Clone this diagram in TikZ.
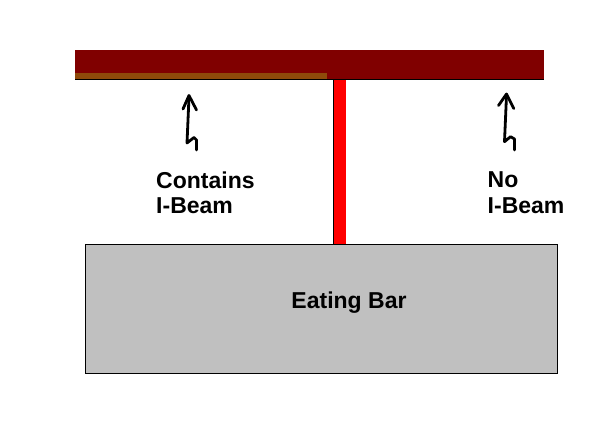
\documentclass[tikz,border=0pt]{standalone}
\usepackage{fontspec}
\setmainfont{Liberation Sans}
\definecolor{beamred}{HTML}{800000}
\definecolor{beambrown}{HTML}{8F4A0A}
\definecolor{barfill}{HTML}{C0C0C0}
\begin{document}
\begin{tikzpicture}[x=1pt,y=-1pt,
  lbl/.style={font=\fontsize{23}{25.5}\selectfont\bfseries, inner sep=0pt, align=left, anchor=north west},
  handarrow/.style={line width=2.8pt, line join=round, line cap=round}]
\useasboundingbox (0,0) rectangle (615,425);
% beam
\fill[beamred] (75,50) rectangle (543.5,80);
\fill[beambrown] (75,73.5) rectangle (327,80);
\draw[line width=1pt] (75,80) -- (543.5,80);
% post
\fill[red] (333.5,80) rectangle (346,244.3);
\draw[line width=0.4pt] (333.5,80) -- (333.5,244.3);
% eating bar
\node[draw, line width=1pt, fill=barfill, minimum width=472pt, minimum height=129pt, inner sep=0pt] (bar) at (321.7,308.8) {};
\node[font=\fontsize{23}{26}\selectfont\bfseries, inner sep=0pt, anchor=base] (bartext) at (349,308) {Eating Bar};
% labels
\node[lbl] (contains) at (156,171.5) {Contains\\I-Beam};
\node[lbl] (noib) at (487.5,171.5) {No\\I-Beam};
% hand-drawn arrows
\draw[handarrow] (183,109) -- (189,95.5) -- (196.5,110);
\draw[handarrow] (189,97) -- (187,143) -- (194,137.5) -- (196.5,140) -- (196.5,150);
\draw[handarrow] (498.5,105.5) -- (506.5,94) -- (513.8,108.5);
\draw[handarrow] (506.5,95.5) -- (504.5,141.7) -- (510.5,136.7) -- (514.5,139) -- (514.5,150);
\end{tikzpicture}
\end{document}
